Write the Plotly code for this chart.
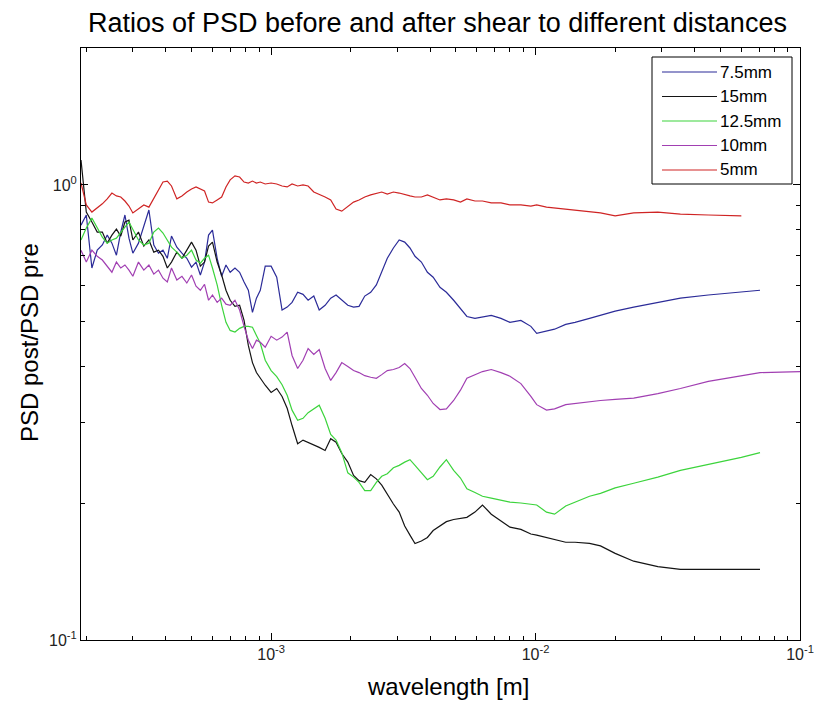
import math
import plotly.graph_objects as go

# Wavelength grid shared by all curves [m]
wavelength = [
    1.91e-4, 2.0e-4, 2.1e-4, 2.2e-4, 2.3e-4, 2.4e-4, 2.5e-4, 2.6e-4, 2.7e-4, 2.8e-4,
    2.9e-4, 3.0e-4, 3.15e-4, 3.3e-4, 3.45e-4, 3.6e-4, 3.75e-4, 3.9e-4, 4.05e-4, 4.2e-4,
    4.4e-4, 4.6e-4, 4.8e-4, 5.0e-4, 5.2e-4, 5.4e-4, 5.6e-4, 5.8e-4, 6.0e-4, 6.25e-4,
    6.5e-4, 6.75e-4, 7.0e-4, 7.3e-4, 7.6e-4, 7.9e-4, 8.2e-4, 8.5e-4, 8.8e-4, 9.1e-4,
    9.5e-4, 1.0e-3, 1.05e-3, 1.1e-3, 1.15e-3, 1.2e-3, 1.26e-3, 1.32e-3, 1.38e-3, 1.45e-3,
    1.52e-3, 1.6e-3, 1.68e-3, 1.76e-3, 1.85e-3, 1.95e-3, 2.05e-3, 2.15e-3, 2.26e-3, 2.38e-3,
    2.5e-3, 2.62e-3, 2.75e-3, 2.9e-3, 3.05e-3, 3.2e-3, 3.35e-3, 3.5e-3, 3.7e-3, 3.9e-3,
    4.1e-3, 4.35e-3, 4.6e-3, 4.9e-3, 5.2e-3, 5.5e-3, 5.9e-3, 6.3e-3, 6.8e-3, 7.4e-3,
    8.0e-3, 8.8e-3, 9.6e-3, 1.01e-2, 1.1e-2, 1.18e-2, 1.3e-2, 1.41e-2, 1.6e-2, 1.76e-2,
    2.0e-2, 2.35e-2, 2.9e-2, 3.53e-2, 4.5e-2, 6.0e-2, 7.06e-2, 1.0e-1,
]

# PSD post / PSD pre for each shear distance (None = no sample at that wavelength)
ratio_7_5mm = [
    0.816, 0.859, 0.657, 0.719, 0.738, 0.776, 0.745, 0.701, 0.788, 0.859,
    0.764, 0.708, 0.745, 0.816, 0.881, 0.738, 0.708, 0.719, 0.690, 0.772,
    0.730, 0.708, 0.690, 0.660, 0.677, 0.634, 0.677, 0.776, 0.796, 0.690,
    0.630, 0.667, 0.643, 0.657, 0.643, 0.612, 0.587, 0.525, 0.564, 0.587,
    0.663, 0.663, 0.627, 0.531, 0.539, 0.552, 0.581, 0.575, 0.558, 0.570,
    0.531, 0.544, 0.564, 0.573, 0.558, 0.544, 0.539, 0.541, 0.570, 0.581,
    0.603, 0.643, 0.690, 0.727, 0.757, 0.749, 0.727, 0.697, 0.677, 0.643,
    0.627, 0.596, 0.581, 0.558, 0.536, 0.514, 0.509, 0.512, 0.517, 0.509,
    0.499, 0.504, 0.489, 0.472, 0.477, 0.482, 0.494, 0.499, 0.509, 0.517,
    0.528, 0.539, 0.552, 0.564, 0.573, 0.581, 0.587, None,
]

ratio_15mm = [
    1.135, 0.872, 0.829, 0.788, 0.788, 0.745, 0.776, 0.800, 0.772, 0.829,
    0.837, 0.757, 0.788, 0.734, 0.757, 0.712, 0.719, 0.697, 0.657, 0.677,
    0.712, 0.690, 0.719, 0.749, 0.719, 0.663, 0.677, 0.734, 0.749, 0.677,
    0.634, 0.587, 0.558, 0.541, 0.544, 0.504, 0.444, 0.407, 0.387, 0.376,
    0.363, 0.350, 0.357, 0.343, 0.323, 0.296, 0.270, 0.275, 0.272, 0.268,
    0.265, 0.261, 0.277, 0.272, 0.257, 0.246, 0.230, 0.224, 0.222, 0.231,
    0.226, 0.219, 0.209, 0.199, 0.191, 0.178, 0.170, 0.163, 0.165, 0.168,
    0.174, 0.178, 0.182, 0.184, 0.185, 0.186, 0.191, 0.198, 0.189, 0.183,
    0.177, 0.175, 0.171, 0.170, 0.168, 0.166, 0.164, 0.164, 0.163, 0.161,
    0.155, 0.149, 0.145, 0.143, 0.143, 0.143, 0.143, None,
]

ratio_12_5mm = [
    0.757, 0.804, 0.846, 0.804, 0.768, 0.745, 0.757, 0.764, 0.788, 0.808,
    0.829, 0.796, 0.757, 0.738, 0.745, 0.788, 0.804, 0.784, 0.757, 0.730,
    0.712, 0.690, 0.701, 0.719, 0.684, 0.673, 0.690, 0.701, 0.657, 0.603,
    0.544, 0.499, 0.479, 0.475, 0.484, 0.489, 0.489, 0.487, 0.467, 0.449,
    0.412, 0.391, 0.379, 0.364, 0.345, 0.320, 0.304, 0.307, 0.316, 0.322,
    0.328, 0.307, 0.283, 0.275, 0.258, 0.233, 0.228, 0.222, 0.213, 0.213,
    0.222, 0.229, 0.232, 0.239, 0.242, 0.246, 0.249, 0.242, 0.233, 0.225,
    0.229, 0.240, 0.249, 0.236, 0.227, 0.215, 0.211, 0.207, 0.205, 0.203,
    0.201, 0.200, 0.199, 0.198, 0.191, 0.189, 0.197, 0.201, 0.207, 0.210,
    0.216, 0.221, 0.228, 0.236, 0.243, 0.252, 0.258, None,
]

ratio_10mm = [
    0.719, 0.677, 0.719, 0.697, 0.684, 0.663, 0.643, 0.677, 0.657, 0.667,
    0.650, 0.630, 0.677, 0.650, 0.667, 0.637, 0.650, 0.624, 0.612, 0.657,
    0.618, 0.630, 0.609, 0.634, 0.599, 0.587, 0.605, 0.558, 0.573, 0.552,
    0.564, 0.547, 0.544, 0.558, 0.531, 0.489, 0.456, 0.437, 0.456, 0.451,
    0.440, 0.465, 0.456, 0.463, 0.475, 0.422, 0.395, 0.412, 0.437, 0.424,
    0.435, 0.395, 0.372, 0.387, 0.407, 0.399, 0.391, 0.387, 0.381, 0.378,
    0.376, 0.383, 0.391, 0.393, 0.397, 0.405, 0.395, 0.378, 0.357, 0.345,
    0.331, 0.321, 0.322, 0.336, 0.354, 0.376, 0.383, 0.389, 0.393, 0.387,
    0.380, 0.366, 0.343, 0.329, 0.320, 0.322, 0.329, 0.331, 0.334, 0.336,
    0.338, 0.340, 0.348, 0.357, 0.370, 0.381, 0.387, 0.389,
]

ratio_5mm = [
    1.010, 0.904, 0.872, 0.890, 0.909, 0.932, 0.960, 0.946, 0.941, 0.922,
    0.899, 0.868, 0.885, 0.904, 0.894, 0.936, 0.975, 1.015, 1.020, 0.995,
    0.932, 0.946, 0.965, 0.980, 0.990, 0.980, 0.970, 0.917, 0.913, 0.927,
    0.941, 0.990, 1.026, 1.047, 1.041, 1.015, 1.010, 1.020, 1.010, 1.015,
    1.005, 1.010, 1.005, 0.995, 0.990, 1.005, 0.995, 1.000, 0.995, 0.965,
    0.955, 0.941, 0.927, 0.885, 0.876, 0.899, 0.917, 0.927, 0.941, 0.951,
    0.960, 0.965, 0.955, 0.965, 0.960, 0.951, 0.946, 0.941, 0.941, 0.951,
    0.941, 0.927, 0.932, 0.927, 0.917, 0.932, 0.922, 0.922, 0.913, 0.913,
    0.904, 0.904, 0.899, 0.904, 0.894, 0.890, 0.885, 0.881, 0.872, 0.868,
    0.855, 0.868, 0.872, 0.863, 0.859, 0.855, None, None,
]

series_names = ["7.5mm", "15mm", "12.5mm", "10mm", "5mm"]
series_values = [ratio_7_5mm, ratio_15mm, ratio_12_5mm, ratio_10mm, ratio_5mm]
series_colors = ["#2b2b98", "#141414", "#3cd43c", "#a13fb2", "#cf2424"]

x_major = [1e-3, 1e-2, 1e-1]
x_major_text = ["10<sup>-3</sup>", "10<sup>-2</sup>", "10<sup>-1</sup>"]
y_major = [0.1, 1.0]
y_major_text = ["10<sup>-1</sup>", "10<sup>0</sup>"]
x_limits = [1.91e-4, 1e-1]
y_limits = [0.1, 2.0]

W, H = 818, 702
M_L, M_R, M_T, M_B = 81, 18, 48, 62
PLOT_W = W - M_L - M_R
PLOT_H = H - M_T - M_B
FONT = "Liberation Sans, Arial, Helvetica, sans-serif"


def paper_x(px):
    return (px - M_L) / PLOT_W


def paper_y(py):
    return (H - M_B - py) / PLOT_H


def minor_ticks(lo, hi):
    vals = []
    e = math.floor(math.log10(lo))
    while 10 ** e <= hi:
        for d in range(2, 10):
            v = d * 10 ** e
            if lo <= v <= hi:
                vals.append(v)
        e += 1
    return vals


fig = go.Figure()
for name, vals, color in zip(series_names, series_values, series_colors):
    fig.add_trace(go.Scatter(
        x=wavelength, y=vals, mode="lines", name=name,
        line=dict(color=color, width=1.2), connectgaps=True, showlegend=False,
    ))

axis_common = dict(
    type="log", showgrid=False, zeroline=False, automargin=False,
    showline=True, linecolor="black", linewidth=1, mirror="ticks",
    ticks="inside", ticklen=7, tickwidth=1, tickcolor="black",
    tickfont=dict(family=FONT, size=16, color="#222222"),
)

fig.update_xaxes(
    **axis_common,
    range=[math.log10(x_limits[0]), math.log10(x_limits[1])],
    tickmode="array", tickvals=x_major, ticktext=x_major_text,
    minor=dict(tickmode="array", tickvals=minor_ticks(*x_limits), ticks="inside",
               ticklen=4, tickcolor="black", tickwidth=1),
)
fig.update_yaxes(
    **axis_common,
    range=[math.log10(y_limits[0]), math.log10(y_limits[1])],
    tickmode="array", tickvals=y_major, ticktext=y_major_text,
    minor=dict(tickmode="array", tickvals=minor_ticks(*y_limits), ticks="inside",
               ticklen=4, tickcolor="black", tickwidth=1),
)

annotations = [
    dict(text="Ratios of PSD before and after shear to different distances",
         xref="paper", yref="paper", x=paper_x(437), y=paper_y(23), xanchor="center",
         yanchor="middle", showarrow=False, font=dict(family=FONT, size=27, color="black")),
    dict(text="wavelength [m]", xref="paper", yref="paper", x=paper_x(448), y=paper_y(686),
         xanchor="center", yanchor="middle", showarrow=False,
         font=dict(family=FONT, size=24, color="black")),
    dict(text="PSD post/PSD pre", xref="paper", yref="paper", x=paper_x(29), y=paper_y(343),
         xanchor="center", yanchor="middle", textangle=-90, showarrow=False,
         font=dict(family=FONT, size=24, color="black")),
]

# Boxed legend in the upper right corner of the axes
shapes = [dict(type="rect", xref="paper", yref="paper",
               x0=paper_x(652), x1=paper_x(792), y0=paper_y(184), y1=paper_y(57),
               line=dict(color="black", width=1), fillcolor="white", layer="above")]
row_y = [72, 96.5, 121, 145.5, 170]
for name, color, ry in zip(series_names, series_colors, row_y):
    shapes.append(dict(type="line", xref="paper", yref="paper",
                       x0=paper_x(662), x1=paper_x(717), y0=paper_y(ry), y1=paper_y(ry),
                       line=dict(color=color, width=1.2), layer="above"))
    annotations.append(dict(text=name, xref="paper", yref="paper",
                            x=paper_x(718), y=paper_y(ry), xanchor="left", yanchor="middle",
                            showarrow=False, font=dict(family=FONT, size=17, color="black")))

fig.update_layout(
    width=W, height=H,
    margin=dict(l=M_L, r=M_R, t=M_T, b=M_B, autoexpand=False),
    paper_bgcolor="white", plot_bgcolor="white",
    shapes=shapes, annotations=annotations,
    font=dict(family=FONT, color="black"),
)

fig.write_html("out.html")
